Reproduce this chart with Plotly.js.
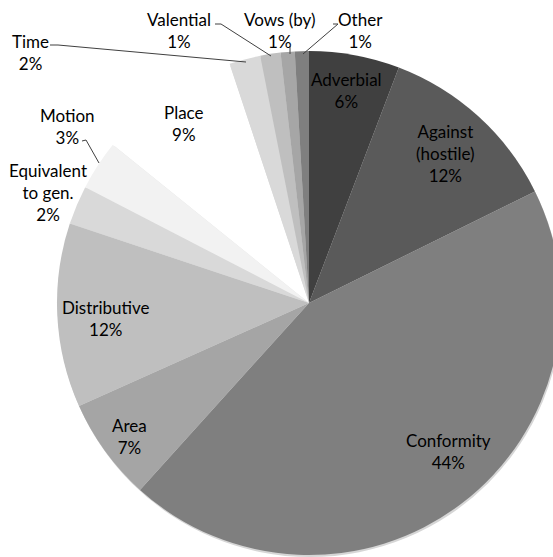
<!DOCTYPE html>
<html>
<head>
<meta charset="utf-8">
<script src="https://cdn.plot.ly/plotly-3.0.1.min.js"></script>
<style>
html,body{margin:0;padding:0;overflow:hidden;background:#fff;}
#chart{width:618px;height:557px;}
</style>
</head>
<body>
<div id="chart"></div>
<script>
// ---- data ----
var categories = ["Adverbial","Against (hostile)","Conformity","Area","Distributive","Equivalent to gen.","Motion","Place","Time","Valential","Vows (by)","Other"];
// slice sizes (percent)
var shares = [5.8,11.9,44.0,6.6,11.8,2.5,3.2,9.1,2.0,1.3,0.9,0.9];
// percentages printed on the data labels
var percentLabels = [6,12,44,7,12,2,3,9,2,1,1,1];
var sliceColors = ["#404040","#5a5a5a","#7f7f7f","#a5a5a5","#bfbfbf","#d9d9d9","#f2f2f2","#ffffff","#d9d9d9","#bfbfbf","#a6a6a6","#7f7f7f"];

// ---- layout geometry (pixels) ----
var W = 618, H = 557, MT = 49, MB = 0;
var PH = H - MT - MB;
function fx(x){ return x / W; }
function fy(y){ return (H - MB - y) / PH; }

// label block centres and line breaks (presentation only)
var labelText = ["Adverbial","Against<br>(hostile)","Conformity","Area","Distributive","Equivalent<br>to gen.","Motion","Place","Time","Valential","Vows (by)","Other"];
var labelPos = [[346,91],[445,153],[448,451],[129,436],[106,318],[48,192],[67,127],[184,124],[30,53],[179,30],[280,30],[360,30]];
var leaders = [
  null,null,null,null,null,null,
  [[82,141],[86,140],[99,163]],
  null,
  [[50,45],[58,45],[246,62]],
  [[215,24],[221,24],[271,56]],
  [[290,46],[290,54]],
  [[333,24],[338,24],[303,54]]
];

var annotations = categories.map(function(c,i){
  return {
    text: labelText[i] + "<br>" + percentLabels[i] + "%",
    x: fx(labelPos[i][0]), y: fy(labelPos[i][1]),
    xref:"paper", yref:"paper", xanchor:"center", yanchor:"middle",
    showarrow:false, align:"center",
    font:{family:"Lato, 'Open Sans', sans-serif", size:17, color:"#000"}
  };
});

var shapes = [];
leaders.forEach(function(pts){
  if(!pts) return;
  var d = pts.map(function(p,k){ return (k? "L":"M") + fx(p[0]) + "," + fy(p[1]); }).join(" ");
  shapes.push({type:"path", xref:"paper", yref:"paper", path:d, line:{color:"#404040", width:1}});
});

var shadow = {
  type:"pie", values:[1], marker:{colors:["#d6d6d6"], line:{width:0}},
  textinfo:"none", hoverinfo:"none", sort:false, showlegend:false,
  domain:{x:[2/W,1], y:[0, 1-4/PH]}
};
var pie = {
  type:"pie", labels:categories, values:shares,
  marker:{colors:sliceColors, line:{width:0}},
  sort:false, direction:"clockwise", rotation:0,
  textinfo:"none", hoverinfo:"none", showlegend:false,
  domain:{x:[0,1], y:[1-506/PH, 1-2/PH]}
};

Plotly.newPlot("chart", [shadow, pie], {
  width:W, height:H,
  margin:{l:0,r:0,t:MT,b:MB,pad:0},
  paper_bgcolor:"#fff", plot_bgcolor:"#fff",
  showlegend:false,
  annotations:annotations, shapes:shapes
}, {staticPlot:true, displayModeBar:false});
</script>
</body>
</html>
